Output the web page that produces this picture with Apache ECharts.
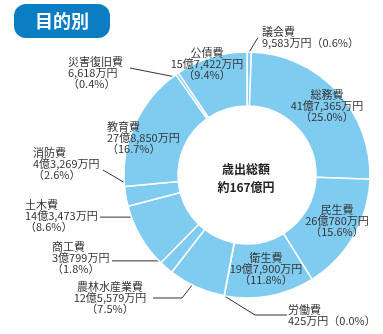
<!DOCTYPE html>
<html><head><meta charset="utf-8">
<script src="https://cdn.jsdelivr.net/npm/echarts@6/dist/echarts.min.js"></script>
<style>html,body{margin:0;padding:0;background:#fff;}#c{width:383px;height:334px;}</style>
</head><body><div id="c"></div>
<script>
// ---- data ----
const categories = ['議会費','総務費','民生費','衛生費','労働費','農林水産業費','商工費','土木費','消防費','教育費','災害復旧費','公債費'];
const amounts = [9583, 417365, 260780, 197900, 425, 125579, 30799, 143473, 43269, 278850, 6618, 157422]; // 万円
const percentLabels = ['0.6','25.0','15.6','11.8','0.0','7.5','1.8','8.6','2.6','16.7','0.4','9.4'];
const totalLines = ['歳出総額','約167億円'];
const titleText = '目的別';

// ---- layout / style constants ----
const CX = 247, CY = 175, R_IN = 69, R_OUT = 123;
const FONT = '"Noto Sans CJK JP", "Noto Sans", sans-serif';
const TEXT = '#333';
const RING = '#80ccf1';
// label placement per index: x, top y, align; optional leader: t (fraction in slice), r, then fixed tail points
const place = [
  {x:262, y:26.5, align:'left', one:true, lead:{t:0.5, r:123, tail:[[258,37.5],[258,37.5]]}},
  {x:327, y:89.5, align:'center'},
  {x:337, y:204.5, align:'center'},
  {x:266, y:252.5, align:'center'},
  {x:288, y:304.5, align:'left', one:true, lead:{t:0.5, r:123, tail:[[255,315],[287,315]]}},
  {x:110, y:281.5, align:'center', lead:{t:0.5, r:103, tail:[[182,298],[153,298]]}},
  {x:52, y:241.5, align:'left', lead:{t:0.5, r:114, flat:112}},
  {x:25, y:199.5, align:'left', lead:{t:0.76, r:112, flat:100}},
  {x:33, y:147.5, align:'left', lead:{t:0.74, r:111, tail:[[103,170],[103,170]]}},
  {x:107, y:121.5, align:'left'},
  {x:68, y:56.5, align:'left', lead:{t:0.5, r:118, tail:[[130,68],[130,68]]}},
  {x:207, y:47.5, align:'center'}
];

function fmtAmount(v){
  const oku = Math.floor(v/10000), man = v % 10000;
  let s = '';
  if (oku) s += oku + '億';
  if (man) s += man.toLocaleString('en-US');
  return s + '万円';
}
const total = amounts.reduce((a,b)=>a+b,0);
const cum = [];
amounts.reduce((acc,v,i)=>{cum[i]=[acc/total*360,(acc+v)/total*360];return acc+v;},0);
function polar(deg, r){
  const a = deg*Math.PI/180;
  return [CX + r*Math.sin(a), CY - r*Math.cos(a)];
}

const data = categories.map((name,i)=>{
  const p = place[i];
  return {
    name, value: amounts[i],
    label: {position: p.lead ? 'outside' : 'inside'},
    labelLine: {show: !!p.lead, lineStyle:{color:TEXT, width:1}}
  };
});

const chart = echarts.init(document.getElementById('c'), null, {renderer:'canvas'});
chart.setOption({
  animation:false,
  backgroundColor:'#fff',
  graphic:[
    {type:'rect', shape:{x:14,y:4,width:96,height:34,r:12}, style:{fill:'#0b7ec3'}},
    {type:'text', x:62, y:21, style:{text:titleText, fill:'#fff', font:'bold 18px '+FONT, align:'center', verticalAlign:'middle'}},
    {type:'text', x:246, y:178, style:{text:totalLines.join('\n'), fill:'#222', font:'bold 12px '+FONT, lineHeight:18, align:'center', verticalAlign:'middle'}}
  ],
  series:[{
    type:'pie',
    center:[CX,CY],
    radius:[R_IN,R_OUT],
    startAngle:90,
    clockwise:true,
    avoidLabelOverlap:false,
    minAngle:0,
    itemStyle:{color:RING, borderColor:'#fff', borderWidth:1.5},
    emphasis:{disabled:true},
    label:{
      show:true, color:TEXT, fontFamily:FONT, fontSize:11, lineHeight:11,
      formatter:(prm)=>{
        const i = prm.dataIndex;
        const pct = '（' + percentLabels[i] + '%）';
        return place[i].one ? prm.name + '\n' + fmtAmount(amounts[i]) + pct
                            : prm.name + '\n' + fmtAmount(amounts[i]) + '\n' + pct;
      }
    },
    labelLayout:(prm)=>{
      const i = prm.dataIndex, p = place[i];
      const o = {x:p.x, y:p.y, align:p.align, verticalAlign:'top'};
      if (p.lead){
        const [a0,a1] = cum[i];
        const s = polar(a0 + (a1-a0)*p.lead.t, p.lead.r);
        let tail;
        if (p.lead.flat != null) tail = [[p.lead.flat, s[1]],[p.lead.flat, s[1]]];
        else tail = p.lead.tail;
        o.labelLinePoints = [s, tail[0], tail[1]];
      }
      return o;
    },
    data
  }]
});
</script></body></html>
